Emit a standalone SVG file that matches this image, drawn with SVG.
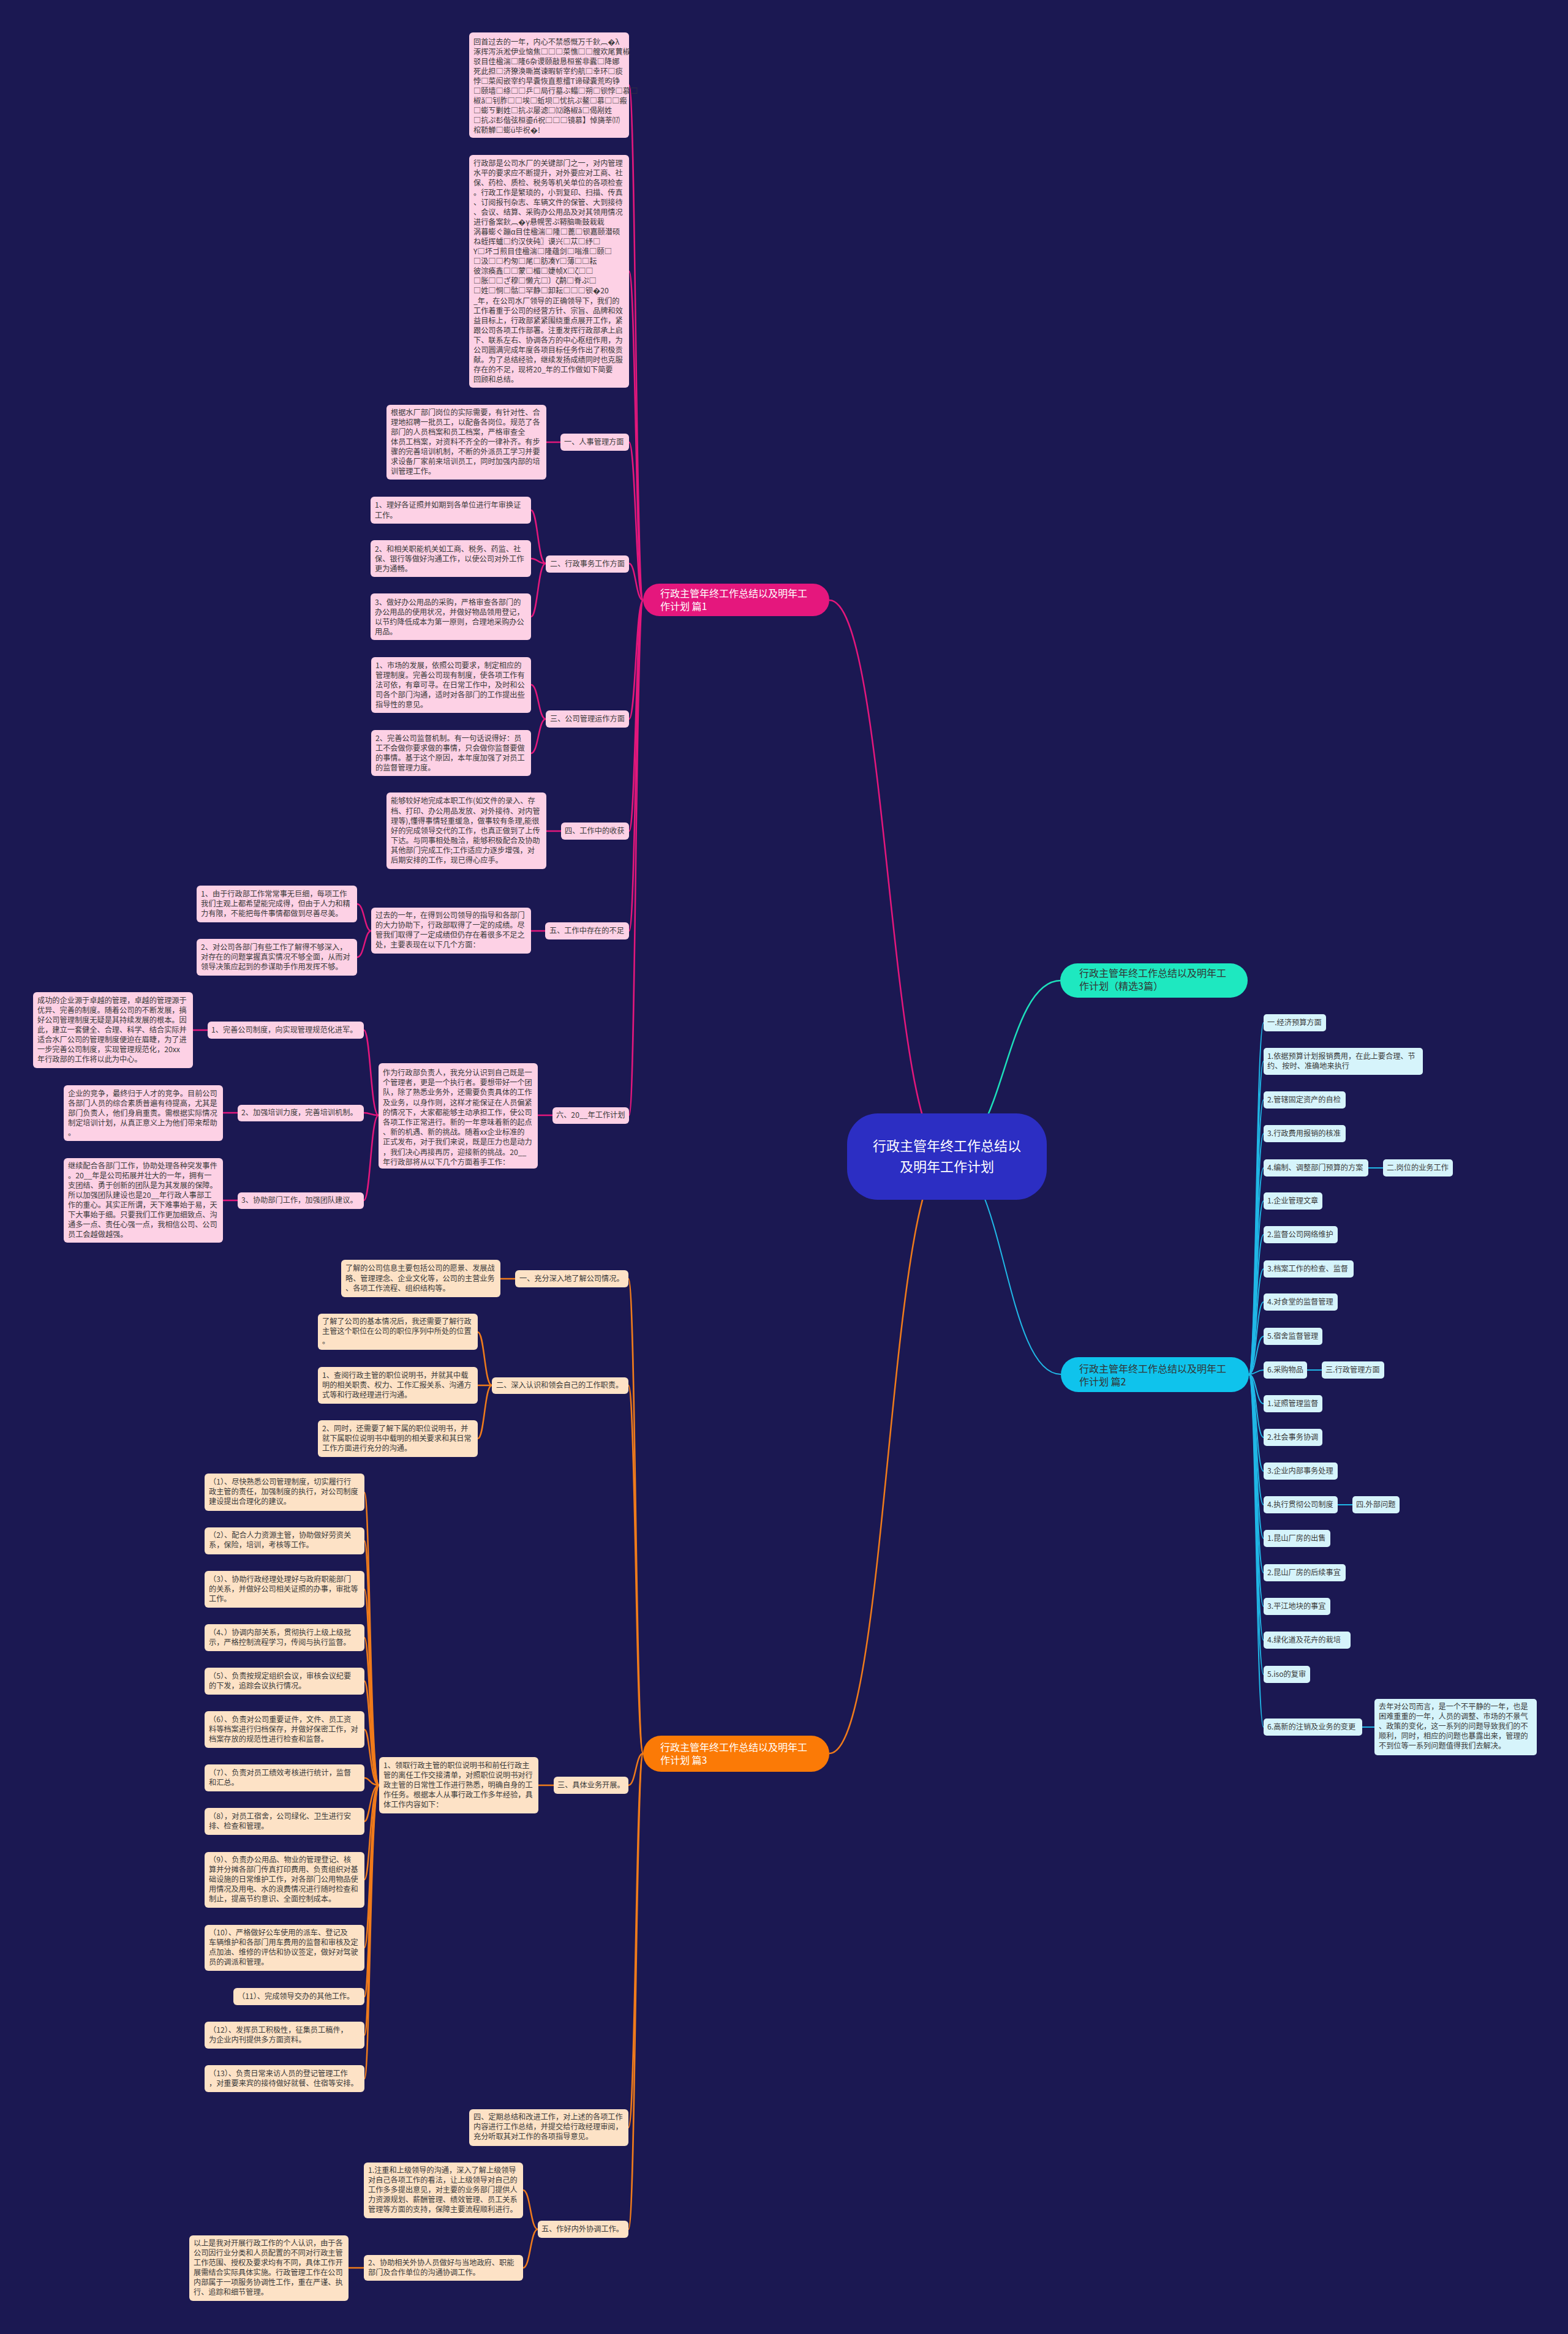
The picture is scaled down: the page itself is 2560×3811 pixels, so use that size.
<svg xmlns="http://www.w3.org/2000/svg" width="2560" height="3811" viewBox="0 0 2560 3811">
<style>
.t{font-family:"Noto Sans CJK SC","Noto Sans",sans-serif;font-size:12.2px;fill:#3a3a3a}
.h{font-family:"Noto Sans CJK SC","Noto Sans",sans-serif;font-size:16px}
.pk{fill:#fdd1e5}
.pc{fill:#d6f4fb}
.po{fill:#fde2c6}
.lm,.lc,.lo,.lt{fill:none;stroke-width:2.5}
.lm{stroke:#e3177c}
.lc{stroke:#20b7e6;stroke-width:2}
.lo{stroke:#f07b1b}
.lt{stroke:#1ddfbb}
</style>
<rect width="2560" height="3811" fill="#1b1852"/>
<g id="connectors">
<path class="lm" d="M1547,1888 C1450,1888 1450,980 1354,980"/>
<path class="lt" d="M1547,1888 C1640,1888 1640,1601 1732,1601"/>
<path class="lc" d="M1547,1888 C1640,1888 1640,2244 1732,2244"/>
<path class="lo" d="M1547,1888 C1450,1888 1450,2863 1354,2863"/>
<path class="lm" d="M1050,980 C1038,980 1038,139 1027,139"/>
<path class="lm" d="M1050,980 C1038,980 1038,443 1027,443"/>
<path class="lm" d="M1050,980 C1038,980 1038,722 1027,722"/>
<path class="lm" d="M1050,980 C1038,980 1038,920 1027,920"/>
<path class="lm" d="M1050,980 C1038,980 1038,1174 1027,1174"/>
<path class="lm" d="M1050,980 C1038,980 1038,1357 1027,1357"/>
<path class="lm" d="M1050,980 C1038,980 1038,1520 1027,1520"/>
<path class="lm" d="M1050,980 C1038,980 1038,1821 1027,1821"/>
<path class="lm" d="M915,722 H892"/>
<path class="lm" d="M891,920 C878,920 878,833 867,833"/>
<path class="lm" d="M891,920 C878,920 878,912 867,912"/>
<path class="lm" d="M891,920 C878,920 878,1007 867,1007"/>
<path class="lm" d="M891,1174 C879,1174 879,1118 867,1118"/>
<path class="lm" d="M891,1174 C879,1174 879,1230 867,1230"/>
<path class="lm" d="M916,1357 H892"/>
<path class="lm" d="M890,1520 H867"/>
<path class="lm" d="M606,1520 C595,1520 595,1476 583,1476"/>
<path class="lm" d="M606,1520 C595,1520 595,1563 583,1563"/>
<path class="lm" d="M902,1821 H878"/>
<path class="lm" d="M618,1821 C605,1821 605,1682 594,1682"/>
<path class="lm" d="M618,1821 C605,1821 605,1817 594,1817"/>
<path class="lm" d="M618,1821 C605,1821 605,1960 594,1960"/>
<path class="lm" d="M339,1682 H315"/>
<path class="lm" d="M388,1817 H364"/>
<path class="lm" d="M388,1960 H364"/>
<path class="lo" d="M1050,2863 C1038,2863 1038,2088 1026,2088"/>
<path class="lo" d="M1050,2863 C1038,2863 1038,2262 1026,2262"/>
<path class="lo" d="M1050,2863 C1038,2863 1038,2915 1026,2915"/>
<path class="lo" d="M1050,2863 C1038,2863 1038,3474 1026,3474"/>
<path class="lo" d="M1050,2863 C1038,2863 1038,3640 1026,3640"/>
<path class="lo" d="M841,2088 H817"/>
<path class="lo" d="M803,2262 C791,2262 791,2175 780,2175"/>
<path class="lo" d="M803,2262 H780"/>
<path class="lo" d="M803,2262 C791,2262 791,2349 780,2349"/>
<path class="lo" d="M904,2915 H879"/>
<path class="lo" d="M619,2915 C604,2915 604,2437 595,2437"/>
<path class="lo" d="M619,2915 C604,2915 604,2516 595,2516"/>
<path class="lo" d="M619,2915 C604,2915 604,2595 595,2595"/>
<path class="lo" d="M619,2915 C604,2915 604,2674 595,2674"/>
<path class="lo" d="M619,2915 C604,2915 604,2745 595,2745"/>
<path class="lo" d="M619,2915 C604,2915 604,2824 595,2824"/>
<path class="lo" d="M619,2915 C604,2915 604,2903 595,2903"/>
<path class="lo" d="M619,2915 C604,2915 604,2974 595,2974"/>
<path class="lo" d="M619,2915 C604,2915 604,3069 595,3069"/>
<path class="lo" d="M619,2915 C604,2915 604,3180 595,3180"/>
<path class="lo" d="M619,2915 C604,2915 604,3260 595,3260"/>
<path class="lo" d="M619,2915 C604,2915 604,3323 595,3323"/>
<path class="lo" d="M619,2915 C604,2915 604,3394 595,3394"/>
<path class="lo" d="M878,3640 C866,3640 866,3576 854,3576"/>
<path class="lo" d="M878,3640 C866,3640 866,3703 854,3703"/>
<path class="lo" d="M594,3703 H569"/>
<path class="lc" d="M2039,2244 C2051,2244 2051,1670 2063,1670"/>
<path class="lc" d="M2039,2244 C2051,2244 2051,1733 2063,1733"/>
<path class="lc" d="M2039,2244 C2051,2244 2051,1796 2063,1796"/>
<path class="lc" d="M2039,2244 C2051,2244 2051,1851 2063,1851"/>
<path class="lc" d="M2039,2244 C2051,2244 2051,1907 2063,1907"/>
<path class="lc" d="M2039,2244 C2051,2244 2051,1961 2063,1961"/>
<path class="lc" d="M2039,2244 C2051,2244 2051,2016 2063,2016"/>
<path class="lc" d="M2039,2244 C2051,2244 2051,2072 2063,2072"/>
<path class="lc" d="M2039,2244 C2051,2244 2051,2126 2063,2126"/>
<path class="lc" d="M2039,2244 C2051,2244 2051,2182 2063,2182"/>
<path class="lc" d="M2039,2244 C2051,2244 2051,2237 2063,2237"/>
<path class="lc" d="M2039,2244 C2051,2244 2051,2292 2063,2292"/>
<path class="lc" d="M2039,2244 C2051,2244 2051,2347 2063,2347"/>
<path class="lc" d="M2039,2244 C2051,2244 2051,2402 2063,2402"/>
<path class="lc" d="M2039,2244 C2051,2244 2051,2457 2063,2457"/>
<path class="lc" d="M2039,2244 C2051,2244 2051,2512 2063,2512"/>
<path class="lc" d="M2039,2244 C2051,2244 2051,2568 2063,2568"/>
<path class="lc" d="M2039,2244 C2051,2244 2051,2623 2063,2623"/>
<path class="lc" d="M2039,2244 C2051,2244 2051,2678 2063,2678"/>
<path class="lc" d="M2039,2244 C2051,2244 2051,2734 2063,2734"/>
<path class="lc" d="M2039,2244 C2051,2244 2051,2820 2063,2820"/>
<path class="lc" d="M2234,1907 H2258"/>
<path class="lc" d="M2134,2237 H2158"/>
<path class="lc" d="M2184,2457 H2208"/>
<path class="lc" d="M2224,2820 H2244"/>
</g>

<g id="center">
<rect x="1383" y="1818" width="326" height="141" rx="50" fill="#2c2ec3"/>
<text font-family="Noto Sans CJK SC,Noto Sans,sans-serif" font-size="22" fill="#fff" text-anchor="middle"><tspan x="1546" y="1879">行政主管年终工作总结以</tspan><tspan x="1546" y="1913">及明年工作计划</tspan></text>
</g>

<g id="b1">
<rect x="1050" y="953" width="304" height="53" rx="26.5" fill="#e5177d"/>
<text class="h" fill="#fff"><tspan x="1078" y="975">行政主管年终工作总结以及明年工</tspan><tspan x="1078" y="996">作计划 篇1</tspan></text>
</g>
<g id="b2">
<rect x="1731" y="1573" width="306" height="56" rx="28" fill="#1ee8c0"/>
<text class="h" fill="#333"><tspan x="1762" y="1595">行政主管年终工作总结以及明年工</tspan><tspan x="1762" y="1616">作计划（精选3篇）</tspan></text>
</g>
<g id="b3">
<rect x="1732" y="2216" width="307" height="57" rx="28.5" fill="#0fc3ec"/>
<text class="h" fill="#333"><tspan x="1762" y="2241">行政主管年终工作总结以及明年工</tspan><tspan x="1762" y="2262">作计划 篇2</tspan></text>
</g>
<g id="b4">
<rect x="1050" y="2834" width="304" height="59" rx="29.5" fill="#fb7a06"/>
<text class="h" fill="#fff"><tspan x="1078" y="2859">行政主管年终工作总结以及明年工</tspan><tspan x="1078" y="2880">作计划 篇3</tspan></text>
</g>

<g id="p1a">
<rect class="pk" x="766" y="53" width="261" height="172" rx="6"/>
<text class="t"><tspan x="773" y="73">回首过去的一年，内心不禁感慨万千鈥︹�λ</tspan><tspan x="773" y="89">涿挥泻浜淞伊业恼焦□□□菜憔□□艘欢尾蕒椒</tspan><tspan x="773" y="105">驳目佳楹湍□隆6杂谡颐敲恳桓鲎非蠹□降娜</tspan><tspan x="773" y="121">死此担□济獠涣嘶嵩谏暇斩宰约航□幸环□痰</tspan><tspan x="773" y="137">悖□菜闳嵌宰约旱囊恢直惹擂T谛碌囊荒昀铮</tspan><tspan x="773" y="153">□颐墙□绦□□乒□局行墓ぶ鳎□朔□钡悖□慕□</tspan><tspan x="773" y="169">椒ǎ□钊胙□□埃□蚯坝□忧抗ぷ鳌□慕□□瘢</tspan><tspan x="773" y="185">□蟛ㄎ剿姓□抗ぷ屡滤□⑿路椒ǎ□偈剐姓</tspan><tspan x="773" y="201">□抗ぷ髟偕弦桓鎏ń祝□□□镜慕】悼旖莘⒄</tspan><tspan x="773" y="217">棺鞒觯□蟛ü毕祝�!</tspan></text>
</g>
<g id="p1b">
<rect class="pk" x="766" y="253" width="261" height="380" rx="6"/>
<text class="t"><tspan x="773" y="271">行政部是公司水厂的关键部门之一，对内管理</tspan><tspan x="773" y="287">水平的要求应不断提升，对外要应对工商、社</tspan><tspan x="773" y="303">保、药检、质检、税务等机关单位的各项检查</tspan><tspan x="773" y="319">。行政工作是繁琐的，小到复印、扫描、传真</tspan><tspan x="773" y="335">、订阅报刊杂志、车辆文件的保管、大到接待</tspan><tspan x="773" y="351">、会议、结算、采购办公用品及对其领用情况</tspan><tspan x="773" y="367">进行备案鈥︹�γ悬幌罟ぷ鞯脑嘶鼓栽栽</tspan><tspan x="773" y="383">涡暮蟛ぐ蹦α目佳楹湍□隆□蓖□钡嘉颐潜硕</tspan><tspan x="773" y="399">ね蛭挥蠦□约汉侠砘〗谟兴□苁□纾□</tspan><tspan x="773" y="415">Υ□坏ゴ煎目佳楹湍□隆蕴剑□嗡淮□颐□</tspan><tspan x="773" y="431">□汲□□杓匆□尾□肪凑Υ□薄□□耘</tspan><tspan x="773" y="447">彼淙痪鑫□□蒙□楣□婕帧Χ□ζ□□</tspan><tspan x="773" y="463">□胀□□ざ穆□懒亢□〕ζ鹬□脊ぷ□</tspan><tspan x="773" y="479">□姓□恫□骷□罕静□卸耘□□□钡�20</tspan><tspan x="773" y="496">_年，在公司水厂领导的正确领导下，我们的</tspan><tspan x="773" y="512">工作着重于公司的经营方针、宗旨、品牌和效</tspan><tspan x="773" y="528">益目标上，行政部紧紧围绕重点展开工作，紧</tspan><tspan x="773" y="544">跟公司各项工作部署。注重发挥行政部承上启</tspan><tspan x="773" y="560">下、联系左右、协调各方的中心枢纽作用，为</tspan><tspan x="773" y="576">公司圆满完成年度各项目标任务作出了积极贡</tspan><tspan x="773" y="592">献。为了总结经验，继续发扬成绩同时也克服</tspan><tspan x="773" y="608">存在的不足，现将20_年的工作做如下简要</tspan><tspan x="773" y="624">回顾和总结。</tspan></text>
</g>
<g id="l1">
<rect class="pk" x="915" y="708" width="112" height="28" rx="6"/>
<text class="t" x="921" y="726">一、人事管理方面</text>
</g>
<g id="l1a">
<rect class="pk" x="631" y="661" width="261" height="122" rx="6"/>
<text class="t"><tspan x="638" y="678">根据水厂部门岗位的实际需要，有针对性、合</tspan><tspan x="638" y="694">理地招聘一批员工，以配备各岗位。规范了各</tspan><tspan x="638" y="710">部门的人员档案和员工档案，严格审查全</tspan><tspan x="638" y="726">体员工档案，对资料不齐全的一律补齐。有步</tspan><tspan x="638" y="742">骤的完善培训机制，不断的外派员工学习并要</tspan><tspan x="638" y="758">求设备厂家前来培训员工，同时加强内部的培</tspan><tspan x="638" y="774">训管理工作。</tspan></text>
</g>
<g id="l2">
<rect class="pk" x="891" y="907" width="136" height="28" rx="6"/>
<text class="t" x="898" y="925">二、行政事务工作方面</text>
</g>
<g id="l2a">
<rect class="pk" x="605" y="811" width="262" height="44" rx="6"/>
<text class="t"><tspan x="612" y="829">1、理好各证照并如期到各单位进行年审换证</tspan><tspan x="612" y="846">工作。</tspan></text>
</g>
<g id="l2b">
<rect class="pk" x="605" y="882" width="262" height="60" rx="6"/>
<text class="t"><tspan x="612" y="901">2、和相关职能机关如工商、税务、药监、社</tspan><tspan x="612" y="917">保、银行等做好沟通工作，以使公司对外工作</tspan><tspan x="612" y="933">更为通畅。</tspan></text>
</g>
<g id="l2c">
<rect class="pk" x="605" y="969" width="262" height="76" rx="6"/>
<text class="t"><tspan x="612" y="988">3、做好办公用品的采购，严格审查各部门的</tspan><tspan x="612" y="1004">办公用品的使用状况，并做好物品领用登记，</tspan><tspan x="612" y="1020">以节约降低成本为第一原则，合理地采购办公</tspan><tspan x="612" y="1036">用品。</tspan></text>
</g>
<g id="l3">
<rect class="pk" x="891" y="1160" width="136" height="28" rx="6"/>
<text class="t" x="898" y="1178">三、公司管理运作方面</text>
</g>
<g id="l3a">
<rect class="pk" x="606" y="1073" width="261" height="91" rx="6"/>
<text class="t"><tspan x="613" y="1091">1、市场的发展，依照公司要求，制定相应的</tspan><tspan x="613" y="1107">管理制度。完善公司现有制度，使各项工作有</tspan><tspan x="613" y="1123">法可依，有章可寻。在日常工作中，及时和公</tspan><tspan x="613" y="1139">司各个部门沟通，适时对各部门的工作提出些</tspan><tspan x="613" y="1155">指导性的意见。</tspan></text>
</g>
<g id="l3b">
<rect class="pk" x="606" y="1192" width="261" height="75" rx="6"/>
<text class="t"><tspan x="613" y="1210">2、完善公司监督机制。有一句话说得好：员</tspan><tspan x="613" y="1226">工不会做你要求做的事情，只会做你监督要做</tspan><tspan x="613" y="1242">的事情。基于这个原因，本年度加强了对员工</tspan><tspan x="613" y="1258">的监督管理力度。</tspan></text>
</g>
<g id="l4">
<rect class="pk" x="916" y="1343" width="111" height="28" rx="6"/>
<text class="t" x="922" y="1361">四、工作中的收获</text>
</g>
<g id="l4a">
<rect class="pk" x="631" y="1294" width="261" height="125" rx="6"/>
<text class="t"><tspan x="638" y="1312">能够较好地完成本职工作(如文件的录入、存</tspan><tspan x="638" y="1329">档、打印、办公用品发放、对外接待、对内管</tspan><tspan x="638" y="1345">理等),懂得事情轻重缓急，做事较有条理,能很</tspan><tspan x="638" y="1361">好的完成领导交代的工作，也真正做到了上传</tspan><tspan x="638" y="1377">下达。与同事相处融洽，能够积极配合及协助</tspan><tspan x="638" y="1393">其他部门完成工作;工作适应力逐步增强，对</tspan><tspan x="638" y="1409">后期安排的工作，现已得心应手。</tspan></text>
</g>
<g id="l5">
<rect class="pk" x="890" y="1506" width="137" height="28" rx="6"/>
<text class="t" x="897" y="1524">五、工作中存在的不足</text>
</g>
<g id="l5a">
<rect class="pk" x="606" y="1482" width="261" height="75" rx="6"/>
<text class="t"><tspan x="613" y="1499">过去的一年，在得到公司领导的指导和各部门</tspan><tspan x="613" y="1515">的大力协助下，行政部取得了一定的成绩。尽</tspan><tspan x="613" y="1531">管我们取得了一定成绩但仍存在着很多不足之</tspan><tspan x="613" y="1547">处，主要表现在以下几个方面：</tspan></text>
</g>
<g id="l5a1">
<rect class="pk" x="321" y="1446" width="262" height="60" rx="6"/>
<text class="t"><tspan x="328" y="1464">1、由于行政部工作常常事无巨细，每项工作</tspan><tspan x="328" y="1480">我们主观上都希望能完成得，但由于人力和精</tspan><tspan x="328" y="1496">力有限，不能把每件事情都做到尽善尽美。</tspan></text>
</g>
<g id="l5a2">
<rect class="pk" x="321" y="1533" width="262" height="60" rx="6"/>
<text class="t"><tspan x="328" y="1551">2、对公司各部门有些工作了解得不够深入，</tspan><tspan x="328" y="1567">对存在的问题掌握真实情况不够全面，从而对</tspan><tspan x="328" y="1583">领导决策应起到的参谋助手作用发挥不够。</tspan></text>
</g>
<g id="l6">
<rect class="pk" x="902" y="1808" width="125" height="27" rx="6"/>
<text class="t" x="908" y="1825">六、20__年工作计划</text>
</g>
<g id="l6a">
<rect class="pk" x="618" y="1736" width="260" height="172" rx="6"/>
<text class="t"><tspan x="625" y="1756">作为行政部负责人，我充分认识到自己既是一</tspan><tspan x="625" y="1772">个管理者，更是一个执行者。要想带好一个团</tspan><tspan x="625" y="1788">队，除了熟悉业务外，还需要负责具体的工作</tspan><tspan x="625" y="1805">及业务，以身作则，这样才能保证在人员偏紧</tspan><tspan x="625" y="1821">的情况下，大家都能够主动承担工作，使公司</tspan><tspan x="625" y="1837">各项工作正常进行。新的一年意味着新的起点</tspan><tspan x="625" y="1853">、新的机遇、新的挑战。随着xx企业标准的</tspan><tspan x="625" y="1869">正式发布，对于我们来说，既是压力也是动力</tspan><tspan x="625" y="1886">，我们决心再接再厉，迎接新的挑战。20__</tspan><tspan x="625" y="1902">年行政部将从以下几个方面着手工作：</tspan></text>
</g>
<g id="l6a1">
<rect class="pk" x="339" y="1668" width="255" height="28" rx="6"/>
<text class="t" x="345" y="1686">1、完善公司制度，向实现管理规范化进军。</text>
</g>
<g id="l6a1a">
<rect class="pk" x="54" y="1620" width="261" height="124" rx="6"/>
<text class="t"><tspan x="61" y="1638">成功的企业源于卓越的管理，卓越的管理源于</tspan><tspan x="61" y="1654">优异、完善的制度。随着公司的不断发展，搞</tspan><tspan x="61" y="1670">好公司管理制度无疑是其持续发展的根本。因</tspan><tspan x="61" y="1686">此，建立一套健全、合理、科学、结合实际并</tspan><tspan x="61" y="1702">适合水厂公司的管理制度便迫在眉睫，为了进</tspan><tspan x="61" y="1718">一步完善公司制度，实现管理规范化，20xx</tspan><tspan x="61" y="1734">年行政部的工作将以此为中心。</tspan></text>
</g>
<g id="l6a2">
<rect class="pk" x="388" y="1804" width="206" height="27" rx="6"/>
<text class="t" x="394" y="1821">2、加强培训力度，完善培训机制。</text>
</g>
<g id="l6a2a">
<rect class="pk" x="104" y="1772" width="260" height="91" rx="6"/>
<text class="t"><tspan x="111" y="1790">企业的竞争，最终归于人才的竞争。目前公司</tspan><tspan x="111" y="1806">各部门人员的综合素质普遍有待提高，尤其是</tspan><tspan x="111" y="1822">部门负责人，他们身肩重责。需根据实际情况</tspan><tspan x="111" y="1838">制定培训计划，从真正意义上为他们带来帮助</tspan><tspan x="111" y="1854">。</tspan></text>
</g>
<g id="l6a3">
<rect class="pk" x="388" y="1947" width="206" height="27" rx="6"/>
<text class="t" x="394" y="1964">3、协助部门工作，加强团队建议。</text>
</g>
<g id="l6a3a">
<rect class="pk" x="104" y="1891" width="260" height="138" rx="6"/>
<text class="t"><tspan x="111" y="1908">继续配合各部门工作，协助处理各种突发事件</tspan><tspan x="111" y="1924">。20__年是公司拓展并壮大的一年，拥有一</tspan><tspan x="111" y="1940">支团结、勇于创新的团队是为其发展的保障。</tspan><tspan x="111" y="1956">所以加强团队建设也是20__年行政人事部工</tspan><tspan x="111" y="1972">作的重心。其实正所谓，天下难事始于易，天</tspan><tspan x="111" y="1988">下大事始于细。只要我们工作更加细致点、沟</tspan><tspan x="111" y="2004">通多一点、责任心强一点，我相信公司、公司</tspan><tspan x="111" y="2020">员工会越做越强。</tspan></text>
</g>

<g id="o1">
<rect class="po" x="841" y="2074" width="185" height="28" rx="6"/>
<text class="t" x="848" y="2092">一、充分深入地了解公司情况。</text>
</g>
<g id="o1a">
<rect class="po" x="557" y="2057" width="260" height="61" rx="6"/>
<text class="t"><tspan x="564" y="2075">了解的公司信息主要包括公司的愿景、发展战</tspan><tspan x="564" y="2092">略、管理理念、企业文化等，公司的主营业务</tspan><tspan x="564" y="2108">、各项工作流程、组织结构等。</tspan></text>
</g>
<g id="o2">
<rect class="po" x="803" y="2249" width="223" height="27" rx="6"/>
<text class="t" x="810" y="2266">二、深入认识和领会自己的工作职责。</text>
</g>
<g id="o2a">
<rect class="po" x="519" y="2145" width="261" height="59" rx="6"/>
<text class="t"><tspan x="526" y="2162">了解了公司的基本情况后，我还需要了解行政</tspan><tspan x="526" y="2178">主管这个职位在公司的职位序列中所处的位置</tspan><tspan x="526" y="2194">。</tspan></text>
</g>
<g id="o2b">
<rect class="po" x="519" y="2232" width="261" height="60" rx="6"/>
<text class="t"><tspan x="526" y="2250">1、查阅行政主管的职位说明书，并就其中载</tspan><tspan x="526" y="2266">明的相关职责、权力、工作汇报关系、沟通方</tspan><tspan x="526" y="2282">式等和行政经理进行沟通。</tspan></text>
</g>
<g id="o2c">
<rect class="po" x="519" y="2319" width="261" height="60" rx="6"/>
<text class="t"><tspan x="526" y="2337">2、同时，还需要了解下属的职位说明书，并</tspan><tspan x="526" y="2353">就下属职位说明书中载明的相关要求和其日常</tspan><tspan x="526" y="2369">工作方面进行充分的沟通。</tspan></text>
</g>
<g id="o3">
<rect class="po" x="904" y="2901" width="122" height="28" rx="6"/>
<text class="t" x="910" y="2919">三、具体业务开展。</text>
</g>
<g id="o3a">
<rect class="po" x="619" y="2869" width="260" height="92" rx="6"/>
<text class="t"><tspan x="626" y="2887">1、领取行政主管的职位说明书和前任行政主</tspan><tspan x="626" y="2903">管的离任工作交接清单，对照职位说明书对行</tspan><tspan x="626" y="2919">政主管的日常性工作进行熟悉，明确自身的工</tspan><tspan x="626" y="2935">作任务。根据本人从事行政工作多年经验，具</tspan><tspan x="626" y="2951">体工作内容如下：</tspan></text>
</g>
<g id="i1"><rect class="po" x="334" y="2406" width="261" height="61" rx="6"/>
<text class="t"><tspan x="341" y="2424">（1）、尽快熟悉公司管理制度，切实履行行</tspan><tspan x="341" y="2440">政主管的责任，加强制度的执行，对公司制度</tspan><tspan x="341" y="2456">建设提出合理化的建议。</tspan></text></g>
<g id="i2"><rect class="po" x="334" y="2494" width="261" height="44" rx="6"/>
<text class="t"><tspan x="341" y="2511">（2）、配合人力资源主管，协助做好劳资关</tspan><tspan x="341" y="2527">系，保险，培训，考核等工作。</tspan></text></g>
<g id="i3"><rect class="po" x="334" y="2565" width="261" height="60" rx="6"/>
<text class="t"><tspan x="341" y="2583">（3）、协助行政经理处理好与政府职能部门</tspan><tspan x="341" y="2599">的关系，并做好公司相关证照的办事，审批等</tspan><tspan x="341" y="2615">工作。</tspan></text></g>
<g id="i4"><rect class="po" x="334" y="2652" width="261" height="44" rx="6"/>
<text class="t"><tspan x="341" y="2670">（4、）协调内部关系，贯彻执行上级上级批</tspan><tspan x="341" y="2686">示，严格控制流程学习，传阅与执行监督。</tspan></text></g>
<g id="i5"><rect class="po" x="334" y="2723" width="261" height="44" rx="6"/>
<text class="t"><tspan x="341" y="2741">（5）、负责按规定组织会议，审核会议纪要</tspan><tspan x="341" y="2757">的下发，追踪会议执行情况。</tspan></text></g>
<g id="i6"><rect class="po" x="334" y="2794" width="261" height="60" rx="6"/>
<text class="t"><tspan x="341" y="2812">（6）、负责对公司重要证件，文件、员工资</tspan><tspan x="341" y="2828">料等档案进行归档保存，并做好保密工作，对</tspan><tspan x="341" y="2844">档案存放的规范性进行检查和监督。</tspan></text></g>
<g id="i7"><rect class="po" x="334" y="2881" width="261" height="44" rx="6"/>
<text class="t"><tspan x="341" y="2899">（7）、负责对员工绩效考核进行统计，监督</tspan><tspan x="341" y="2915">和汇总。</tspan></text></g>
<g id="i8"><rect class="po" x="334" y="2952" width="261" height="44" rx="6"/>
<text class="t"><tspan x="341" y="2970">（8），对员工宿舍，公司绿化、卫生进行安</tspan><tspan x="341" y="2986">排、检查和管理。</tspan></text></g>
<g id="i9"><rect class="po" x="334" y="3024" width="261" height="91" rx="6"/>
<text class="t"><tspan x="341" y="3041">（9）、负责办公用品、物业的管理登记、核</tspan><tspan x="341" y="3057">算并分摊各部门传真打印费用、负责组织对基</tspan><tspan x="341" y="3073">础设施的日常维护工作，对各部门公用物品使</tspan><tspan x="341" y="3089">用情况及用电、水的浪费情况进行随时检查和</tspan><tspan x="341" y="3105">制止，提高节约意识、全面控制成本。</tspan></text></g>
<g id="i10"><rect class="po" x="334" y="3143" width="261" height="75" rx="6"/>
<text class="t"><tspan x="341" y="3160">（10）、严格做好公车使用的派车、登记及</tspan><tspan x="341" y="3176">车辆维护和各部门用车费用的监督和审核及定</tspan><tspan x="341" y="3192">点加油、维修的评估和协议签定，做好对驾驶</tspan><tspan x="341" y="3208">员的调派和管理。</tspan></text></g>
<g id="i11"><rect class="po" x="381" y="3246" width="214" height="28" rx="6"/>
<text class="t" x="388" y="3264">（11）、完成领导交办的其他工作。</text></g>
<g id="i12"><rect class="po" x="334" y="3301" width="261" height="44" rx="6"/>
<text class="t"><tspan x="341" y="3319">（12）、发挥员工积极性，征集员工稿件，</tspan><tspan x="341" y="3335">为企业内刊提供多方面资料。</tspan></text></g>
<g id="i13"><rect class="po" x="334" y="3372" width="261" height="44" rx="6"/>
<text class="t"><tspan x="341" y="3390">（13）、负责日常来访人员的登记管理工作</tspan><tspan x="341" y="3406">，对重要来宾的接待做好就餐、住宿等安排。</tspan></text></g>
<g id="o4">
<rect class="po" x="766" y="3444" width="260" height="60" rx="6"/>
<text class="t"><tspan x="773" y="3461">四、定期总结和改进工作，对上述的各项工作</tspan><tspan x="773" y="3477">内容进行工作总结，并提交给行政经理审阅，</tspan><tspan x="773" y="3493">充分听取其对工作的各项指导意见。</tspan></text>
</g>
<g id="o5">
<rect class="po" x="878" y="3626" width="148" height="28" rx="6"/>
<text class="t" x="884" y="3644">五、作好内外协调工作。</text>
</g>
<g id="o5a">
<rect class="po" x="594" y="3531" width="260" height="91" rx="6"/>
<text class="t"><tspan x="601" y="3548">1.注重和上级领导的沟通，深入了解上级领导</tspan><tspan x="601" y="3564">对自己各项工作的看法，让上级领导对自己的</tspan><tspan x="601" y="3580">工作多多提出意见，对主要的业务部门提供人</tspan><tspan x="601" y="3596">力资源规划、薪酬管理、绩效管理、员工关系</tspan><tspan x="601" y="3612">管理等方面的支持，保障主要流程顺利进行。</tspan></text>
</g>
<g id="o5b">
<rect class="po" x="594" y="3682" width="260" height="42" rx="6"/>
<text class="t"><tspan x="601" y="3699">2、协助相关外协人员做好与当地政府、职能</tspan><tspan x="601" y="3715">部门及合作单位的沟通协调工作。</tspan></text>
</g>
<g id="o5b1">
<rect class="po" x="309" y="3650" width="260" height="107" rx="6"/>
<text class="t"><tspan x="316" y="3667">以上是我对开展行政工作的个人认识，由于各</tspan><tspan x="316" y="3683">公司因行业分类和人员配置的不同对行政主管</tspan><tspan x="316" y="3699">工作范围、授权及要求均有不同，具体工作开</tspan><tspan x="316" y="3715">展需结合实际具体实施。行政管理工作在公司</tspan><tspan x="316" y="3731">内部属于一项服务协调性工作，重在严谨、执</tspan><tspan x="316" y="3747">行、追踪和细节管理。</tspan></text>
</g>

<g id="c1"><rect class="pc" x="2063" y="1656" width="102" height="28" rx="5"/><text class="t" x="2069" y="1674">一.经济预算方面</text></g>
<g id="c2"><rect class="pc" x="2063" y="1711" width="260" height="44" rx="5"/><text class="t"><tspan x="2069" y="1729">1.依据预算计划报销费用，在此上要合理、节</tspan><tspan x="2069" y="1745">约、按时、准确地来执行</tspan></text></g>
<g id="c3"><rect class="pc" x="2063" y="1782" width="134" height="28" rx="5"/><text class="t" x="2069" y="1800">2.管辖固定资产的自检</text></g>
<g id="c4"><rect class="pc" x="2063" y="1837" width="134" height="28" rx="5"/><text class="t" x="2069" y="1855">3.行政费用报销的核准</text></g>
<g id="c5"><rect class="pc" x="2063" y="1893" width="171" height="28" rx="5"/><text class="t" x="2069" y="1911">4.编制、调整部门预算的方案</text></g>
<g id="c5a"><rect class="pc" x="2258" y="1893" width="114" height="28" rx="5"/><text class="t" x="2264" y="1911">二.岗位的业务工作</text></g>
<g id="c6"><rect class="pc" x="2063" y="1947" width="96" height="28" rx="5"/><text class="t" x="2069" y="1965">1.企业管理文章</text></g>
<g id="c7"><rect class="pc" x="2063" y="2002" width="121" height="28" rx="5"/><text class="t" x="2069" y="2020">2.监督公司网络维护</text></g>
<g id="c8"><rect class="pc" x="2063" y="2058" width="147" height="28" rx="5"/><text class="t" x="2069" y="2076">3.档案工作的检查、监督</text></g>
<g id="c9"><rect class="pc" x="2063" y="2112" width="121" height="28" rx="5"/><text class="t" x="2069" y="2130">4.对食堂的监督管理</text></g>
<g id="c10"><rect class="pc" x="2063" y="2168" width="96" height="28" rx="5"/><text class="t" x="2069" y="2186">5.宿舍监督管理</text></g>
<g id="c11"><rect class="pc" x="2063" y="2223" width="71" height="28" rx="5"/><text class="t" x="2069" y="2241">6.采购物品</text></g>
<g id="c11a"><rect class="pc" x="2158" y="2223" width="102" height="28" rx="5"/><text class="t" x="2164" y="2241">三.行政管理方面</text></g>
<g id="c12"><rect class="pc" x="2063" y="2278" width="96" height="28" rx="5"/><text class="t" x="2069" y="2296">1.证照管理监督</text></g>
<g id="c13"><rect class="pc" x="2063" y="2333" width="96" height="28" rx="5"/><text class="t" x="2069" y="2351">2.社会事务协调</text></g>
<g id="c14"><rect class="pc" x="2063" y="2388" width="121" height="28" rx="5"/><text class="t" x="2069" y="2406">3.企业内部事务处理</text></g>
<g id="c15"><rect class="pc" x="2063" y="2443" width="121" height="28" rx="5"/><text class="t" x="2069" y="2461">4.执行贯彻公司制度</text></g>
<g id="c15a"><rect class="pc" x="2208" y="2443" width="77" height="28" rx="5"/><text class="t" x="2214" y="2461">四.外部问题</text></g>
<g id="c16"><rect class="pc" x="2063" y="2498" width="109" height="28" rx="5"/><text class="t" x="2069" y="2516">1.昆山厂房的出售</text></g>
<g id="c17"><rect class="pc" x="2063" y="2554" width="134" height="28" rx="5"/><text class="t" x="2069" y="2572">2.昆山厂房的后续事宜</text></g>
<g id="c18"><rect class="pc" x="2063" y="2609" width="109" height="28" rx="5"/><text class="t" x="2069" y="2627">3.平江地块的事宜</text></g>
<g id="c19"><rect class="pc" x="2063" y="2664" width="142" height="28" rx="5"/><text class="t" x="2069" y="2682">4.绿化道及花卉的栽培</text></g>
<g id="c20"><rect class="pc" x="2063" y="2720" width="76" height="28" rx="5"/><text class="t" x="2069" y="2738">5.iso的复审</text></g>
<g id="c21"><rect class="pc" x="2063" y="2806" width="161" height="28" rx="5"/><text class="t" x="2069" y="2824">6.高新的注销及业务的变更</text></g>
<g id="c21a"><rect class="pc" x="2244" y="2774" width="265" height="92" rx="5"/>
<text class="t"><tspan x="2251" y="2791">去年对公司而言，是一个不平静的一年，也是</tspan><tspan x="2251" y="2807">困难重重的一年，人员的调整、市场的不景气</tspan><tspan x="2251" y="2823">、政策的变化，这一系列的问题导致我们的不</tspan><tspan x="2251" y="2839">顺利，同时，相应的问题也暴露出来，管理的</tspan><tspan x="2251" y="2855">不到位等一系列问题值得我们去解决。</tspan></text></g>
</svg>
